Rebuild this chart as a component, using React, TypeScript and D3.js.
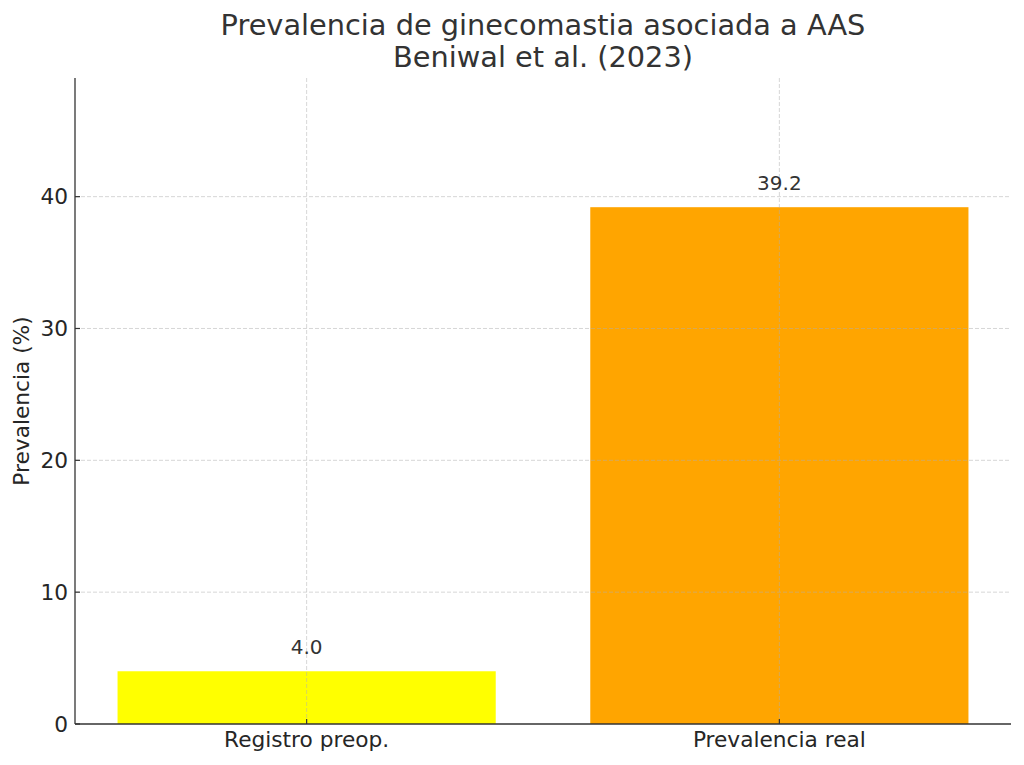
import React from 'react';
import * as d3 from 'd3';

// Data
const categories = ['Registro preop.', 'Prevalencia real'];
const values = [4.0, 39.2];
const barColors = ['#ffff00', '#ffa500'];
const yTicks = [0, 10, 20, 30, 40];
const titleLines = ['Prevalencia de ginecomastia asociada a AAS', 'Beniwal et al. (2023)'];
const yLabel = 'Prevalencia (%)';

const WIDTH = 1024;
const HEIGHT = 765;
const margin = { top: 78, right: 13, bottom: 41, left: 75 };
const FONT = '"DejaVu Sans", sans-serif';

export default function App() {
  const plotLeft = margin.left;
  const plotRight = WIDTH - margin.right;
  const plotTop = margin.top;
  const plotBottom = HEIGHT - margin.bottom;

  const barWidth = 0.8;
  const pad = (categories.length - 1 + barWidth) * 0.05;
  const x = d3
    .scaleLinear()
    .domain([-barWidth / 2 - pad, categories.length - 1 + barWidth / 2 + pad])
    .range([plotLeft, plotRight]);

  const yMax = (d3.max(values) || 0) * 1.25;
  const y = d3.scaleLinear().domain([0, yMax]).range([plotBottom, plotTop]);

  const gridStyle = {
    stroke: '#b0b0b0',
    strokeOpacity: 0.5,
    strokeWidth: 1,
    strokeDasharray: '4,2',
  };

  const cx = (plotLeft + plotRight) / 2;
  const cy = (plotTop + plotBottom) / 2;

  return (
    <svg
      width={WIDTH}
      height={HEIGHT}
      style={{ position: 'absolute', left: 0, top: 0, background: '#fff' }}
      fontFamily={FONT}
    >
      <rect width={WIDTH} height={HEIGHT} fill="#fff" />

      {/* Bars */}
      {values.map((v, i) => (
        <rect
          key={categories[i]}
          x={x(i - barWidth / 2)}
          y={y(v)}
          width={x(i + barWidth / 2) - x(i - barWidth / 2)}
          height={y(0) - y(v)}
          fill={barColors[i]}
        />
      ))}

      {/* Grid (drawn over bars) */}
      {yTicks.slice(1).map((t) => (
        <line key={'gy' + t} x1={plotLeft} x2={plotRight} y1={y(t)} y2={y(t)} {...gridStyle} />
      ))}
      {categories.map((c, i) => (
        <line key={'gx' + c} x1={x(i)} x2={x(i)} y1={plotTop} y2={plotBottom} {...gridStyle} />
      ))}

      {/* Value labels */}
      {values.map((v, i) => (
        <text
          key={'v' + i}
          x={x(i)}
          y={y(v) - 17}
          textAnchor="middle"
          fontSize={20}
          fill="#333"
        >
          {v.toFixed(1)}
        </text>
      ))}

      {/* Spines */}
      <line x1={plotLeft} x2={plotLeft} y1={plotTop} y2={plotBottom} stroke="#333" strokeWidth={1.3} />
      <line x1={plotLeft} x2={plotRight} y1={plotBottom} y2={plotBottom} stroke="#333" strokeWidth={1.3} />

      {/* Y ticks */}
      {yTicks.map((t) => (
        <g key={'yt' + t}>
          <line x1={plotLeft} x2={plotLeft + 5} y1={y(t)} y2={y(t)} stroke="#333" strokeWidth={1.2} />
          <text
            x={plotLeft - 7}
            y={y(t)}
            dy="0.36em"
            textAnchor="end"
            fontSize={21.7}
            fill="#262626"
          >
            {t}
          </text>
        </g>
      ))}

      {/* X ticks */}
      {categories.map((c, i) => (
        <g key={'xt' + c}>
          <line x1={x(i)} x2={x(i)} y1={plotBottom} y2={plotBottom - 5} stroke="#333" strokeWidth={1.2} />
          <text x={x(i)} y={plotBottom + 23} textAnchor="middle" fontSize={21.7} fill="#262626">
            {c}
          </text>
        </g>
      ))}

      {/* Y label */}
      <text
        transform={`translate(29,${cy}) rotate(-90)`}
        textAnchor="middle"
        fontSize={21.7}
        fill="#262626"
      >
        {yLabel}
      </text>

      {/* Title */}
      {titleLines.map((line, i) => (
        <text key={'t' + i} x={cx} y={35 + i * 32} textAnchor="middle" fontSize={28.8} fill="#333">
          {line}
        </text>
      ))}
    </svg>
  );
}
